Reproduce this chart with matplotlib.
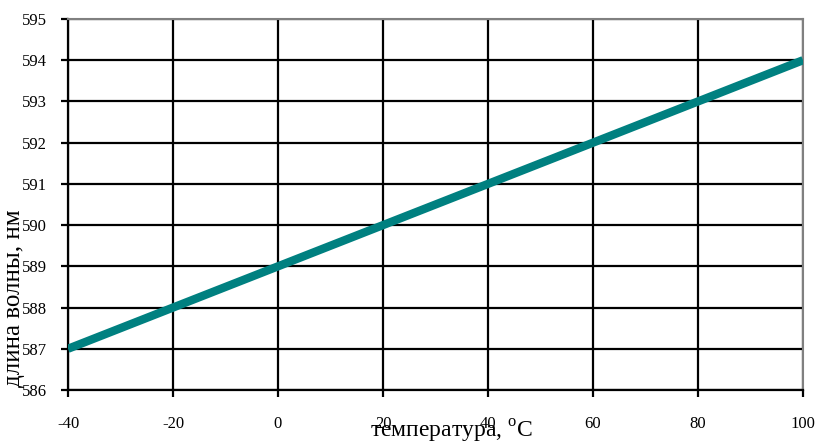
import matplotlib.pyplot as plt

# данные
temperature = [-40, -20, 0, 20, 40, 60, 80, 100]
wavelength = [587, 588, 589, 590, 591, 592, 593, 594]
x_ticks = [-40, -20, 0, 20, 40, 60, 80, 100]
y_ticks = [586, 587, 588, 589, 590, 591, 592, 593, 594, 595]

plt.rcParams['font.family'] = ['Liberation Serif', 'DejaVu Serif']
plt.rcParams['mathtext.fontset'] = 'custom'
plt.rcParams['mathtext.rm'] = 'Liberation Serif'

fig = plt.figure(figsize=(8.21, 4.48), dpi=100)
ax = fig.add_axes([68 / 821, 1 - 390 / 448, (803 - 68) / 821, (390 - 19) / 448])

ax.plot(temperature, wavelength, color='#008080', linewidth=6, solid_capstyle='butt', zorder=3)

ax.set_xlim(-40, 100)
ax.set_ylim(586, 595)
ax.set_xticks(x_ticks)
ax.set_yticks(y_ticks)
ax.set_xticklabels([str(t) for t in x_ticks])
ax.set_yticklabels([str(t) for t in y_ticks])

ax.grid(True, color='black', linewidth=1.6)
ax.set_axisbelow(True)

for side in ['top', 'right']:
    ax.spines[side].set_color('#808080')
    ax.spines[side].set_linewidth(1.5)
for side in ['left', 'bottom']:
    ax.spines[side].set_color('black')
    ax.spines[side].set_linewidth(1.6)

ax.tick_params(axis='x', direction='out', length=5, width=1.6, pad=14, labelsize=12)
ax.tick_params(axis='y', direction='out', length=5, width=1.6, pad=10, labelsize=12)

ax.set_xlabel('температура, $^{\\mathrm{o}}$C', fontsize=17)
ax.xaxis.set_label_coords(0.522, -0.076)
ax.set_ylabel('длина волны, нм', fontsize=18)
ax.yaxis.set_label_coords(-0.058, 0.248)

fig.savefig('out.png', dpi=100)
